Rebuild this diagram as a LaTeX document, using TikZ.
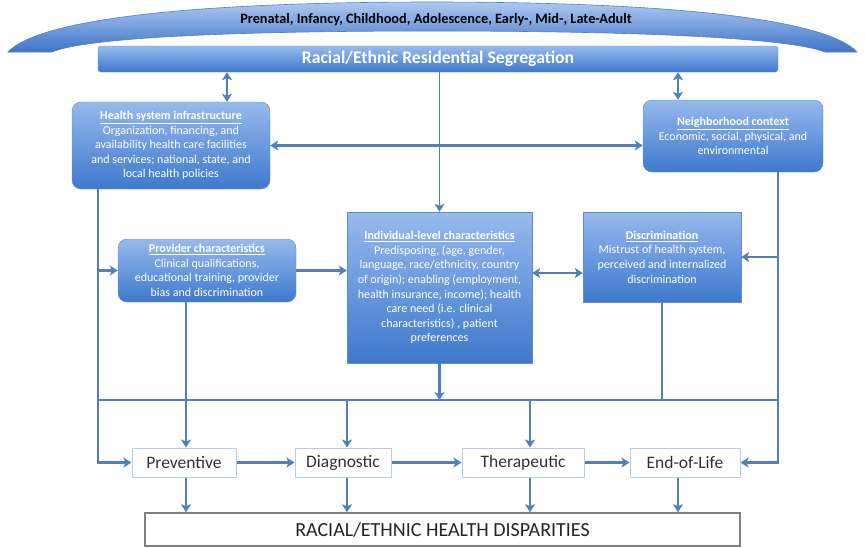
\documentclass[tikz,border=0pt]{standalone}
\usepackage{fontspec}
\setmainfont{Carlito}
\usetikzlibrary{arrows.meta}
\definecolor{linkblue}{RGB}{79,129,189}
\definecolor{boxtop}{RGB}{150,186,236}
\definecolor{boxbot}{RGB}{62,120,205}
\definecolor{boxline}{RGB}{95,140,210}
\definecolor{rowline}{RGB}{184,204,228}
\definecolor{arctop}{RGB}{175,200,240}
\definecolor{arcbot}{RGB}{60,115,200}
\tikzset{
  bluebox/.style={draw=boxline, top color=boxtop, bottom color=boxbot, text=white,
    align=center, inner sep=0pt, font=\fontsize{12}{14.6}\selectfont},
  roundbox/.style={bluebox, rounded corners=9pt},
  carebox/.style={draw=rowline, fill=white, line width=1pt, minimum height=29pt,
    inner sep=0pt, text=black!80, font=\fontsize{17.5}{20}\selectfont},
  plain/.style={draw=linkblue, line width=2.1pt},
  link/.style={plain, -{Stealth[length=8pt,width=10pt,inset=2pt]}},
  twoway/.style={plain, {Stealth[length=8pt,width=10pt,inset=2pt]}-{Stealth[length=8pt,width=10pt,inset=2pt]}},
}
\begin{document}
\begin{tikzpicture}[x=1pt,y=-1pt]
\useasboundingbox (0,0) rectangle (865,547);
% life course arc
\shade[top color=arctop, bottom color=arcbot, draw=linkblue, line width=.6pt]
  (8,52) .. controls (40,18) and (200,2) .. (432,2) .. controls (665,2) and (825,18) .. (857,52)
  -- (825,52) .. controls (790,38) and (640,31) .. (432,31) .. controls (225,31) and (85,38) .. (52,52) -- cycle;
\node (life) at (436,20) {\fontsize{14.3}{16}\selectfont\bfseries Prenatal, Infancy, Childhood, Adolescence, Early-, Mid-, Late-Adult};
\node [bluebox, rounded corners=3pt, minimum width=680pt, minimum height=26pt] (seg) at (438,59)
  {\fontsize{17.7}{19}\selectfont\bfseries Racial/Ethnic Residential Segregation};
% upper boxes
\node [roundbox, minimum width=198pt, minimum height=87pt] (health) at (171,145.5)
  {\underline{\textbf{Health system infrastructure}}\\Organization, financing, and\\availability health care facilities\\and services; national, state, and\\local health policies};
\node [roundbox, minimum width=180pt, minimum height=72pt] (neigh) at (733,136)
  {\underline{\textbf{Neighborhood context}}\\Economic, social, physical, and\\environmental};
\node [roundbox, minimum width=178pt, minimum height=63pt] (prov) at (207,270.5)
  {\underline{\textbf{Provider characteristics}}\\Clinical qualifications,\\educational training, provider\\bias and discrimination};
\node [bluebox, minimum width=185pt, minimum height=151pt] (indiv) at (439.5,287.5)
  {\underline{\textbf{Individual-level characteristics}}\\Predisposing, (age, gender,\\language, race/ethnicity, country\\of origin); enabling (employment,\\health insurance, income); health\\care need (i.e. clinical\\characteristics) , patient\\preferences};
\node [bluebox, minimum width=158pt, minimum height=90pt] (disc) at (662,257)
  {\underline{\textbf{Discrimination}}\\Mistrust of health system,\\perceived and internalized\\discrimination};
% care row
\node [carebox, minimum width=104pt] (prev) at (184,462.5) {Preventive};
\node [carebox, minimum width=96pt] (diag) at (343,462.5) {Diagnostic};
\node [carebox, minimum width=122pt] (thera) at (523,462.5) {Therapeutic};
\node [carebox, minimum width=110pt] (eol) at (685,462.5) {End-of-Life};
\node [draw=black!50, line width=1.5pt, fill=white, minimum width=595pt, minimum height=33pt,
  inner sep=0pt, text=black!85, font=\fontsize{20}{22}\selectfont] (disp) at (442.5,529.5)
  {RACIAL/ETHNIC HEALTH DISPARITIES};
\coordinate (busL) at (98,400);
\coordinate (busR) at (778,400);
% connectors
\draw [twoway] (seg.south -| 227,0) -- (health.north -| 227,0);
\draw [twoway] (seg.south -| 678,0) -- (neigh.north -| 678,0);
\draw [link, line width=1.5pt] (seg.south -| indiv.north) -- (indiv.north);
\draw [twoway] (health.east) -- (health.east -| neigh.west);
\draw [link] (health.south -| busL) |- (prov.west);
\draw [link] (health.south -| busL) |- (prev.west);
\draw [link] (prov.east) -- (prov.east -| indiv.west);
\draw [twoway] (indiv.east |- 0,273) -- (disc.west |- 0,273);
\draw [link] (neigh.south -| busR) |- (disc.east);
\draw [link] (neigh.south -| busR) |- (eol.east);
\draw [plain] (busL) -- (busR);
\draw [plain] (disc.south) -- (disc.south |- busL);
\draw [link] (indiv.south) -- (indiv.south |- busL);
\draw [link] ([xshift=2pt]prev.north |- prov.south) -- ([xshift=2pt]prev.north);
\draw [link] ([xshift=4pt]diag.north |- busL) -- ([xshift=4pt]diag.north);
\draw [link] ([xshift=7pt]thera.north |- busL) -- ([xshift=7pt]thera.north);
\draw [link] (prev.east) -- (diag.west);
\draw [link] (diag.east) -- (thera.west);
\draw [link] (thera.east) -- (eol.west);
\draw [link] ([xshift=2pt]prev.south) -- ([xshift=2pt]prev.south |- disp.north);
\draw [link] ([xshift=4pt]diag.south) -- ([xshift=4pt]diag.south |- disp.north);
\draw [link] ([xshift=7pt]thera.south) -- ([xshift=7pt]thera.south |- disp.north);
\draw [link] ([xshift=-7pt]eol.south) -- ([xshift=-7pt]eol.south |- disp.north);
\end{tikzpicture}
\end{document}
